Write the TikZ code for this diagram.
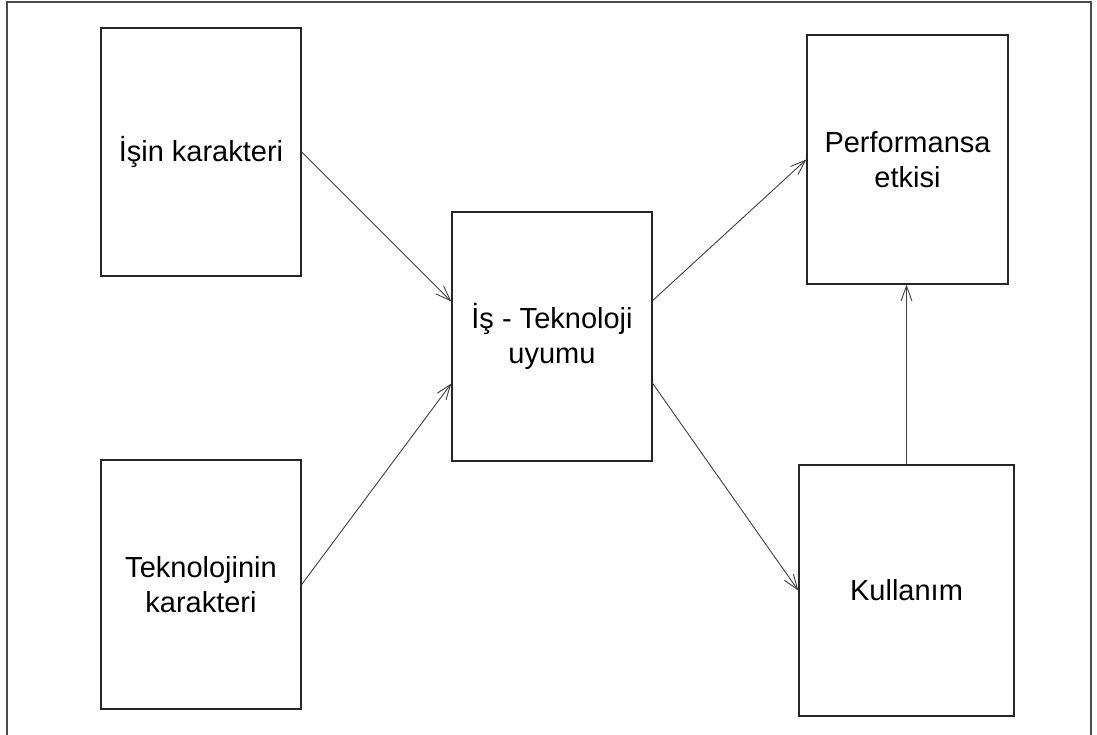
\documentclass[tikz,border=0pt]{standalone}
\usepackage{fontspec}
\setmainfont{Liberation Sans}
\usetikzlibrary{arrows.meta}
\begin{document}
\begin{tikzpicture}[x=1pt,y=-1pt,
  box/.style={draw=black!85, line width=1.4pt, inner sep=0pt, align=center,
    font=\fontsize{29}{35}\selectfont},
  link/.style={draw=black!75, line width=0.9pt,
    -{Straight Barb[length=15pt,width=11pt,line width=0.9pt]}}]
  \useasboundingbox (0,0) rectangle (1097,735);
  % open outer frame
  \draw[black!70, line width=1.5pt] (7,735) -- (7,2) -- (1091,2) -- (1091,735);

  \node[box, minimum width=200pt, minimum height=248pt] (b1) at (201,152) {İşin karakteri};
  \node[box, minimum width=200pt, minimum height=249pt] (b2) at (201,584.5) {Teknolojinin\\karakteri};
  \node[box, minimum width=200pt, minimum height=249pt] (b3) at (552,336.5) {İş - Teknoloji\\uyumu};
  \node[box, minimum width=201pt, minimum height=249pt] (b4) at (907.5,159.5) {Performansa\\etkisi};
  \node[box, minimum width=215pt, minimum height=251pt] (b5) at (906.5,590.5) {Kullanım};

  \draw[link] (b1.east) -- ([yshift=35pt]b3.west);
  \draw[link] (b2.east) -- ([yshift=-47pt]b3.west);
  \draw[link] ([yshift=36pt]b3.east) -- (b4.west);
  \draw[link] ([yshift=-47pt]b3.east) -- (b5.west);
  \draw[link] (b5.north) -- (b5.north |- b4.south);
\end{tikzpicture}
\end{document}
